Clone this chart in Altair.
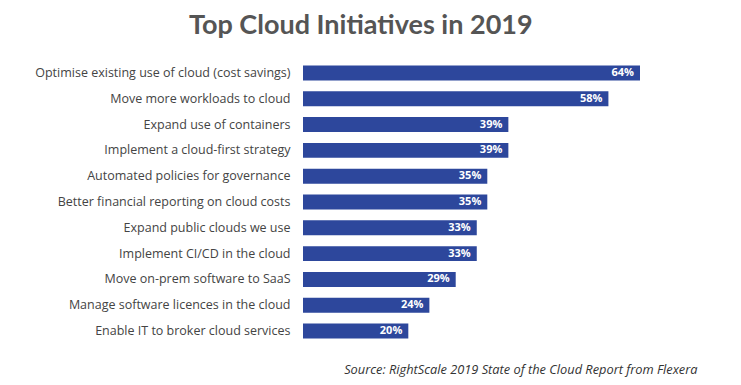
import altair as alt
import pandas as pd

initiatives = [
    "Optimise existing use of cloud (cost savings)",
    "Move more workloads to cloud",
    "Expand use of containers",
    "Implement a cloud-first strategy",
    "Automated policies for governance",
    "Better financial reporting on cloud costs",
    "Expand public clouds we use",
    "Implement CI/CD in the cloud",
    "Move on-prem software to SaaS",
    "Manage software licences in the cloud",
    "Enable IT to broker cloud services",
]
percents = [64, 58, 39, 39, 35, 35, 33, 33, 29, 24, 20]

df = pd.DataFrame({"initiative": initiatives, "pct": percents})
df["label"] = df["pct"].astype(str) + "%"

y_enc = alt.Y(
    "initiative:N",
    sort=initiatives,
    scale=alt.Scale(paddingInner=0.42, paddingOuter=0.21),
    axis=alt.Axis(
        title=None, domain=False, ticks=False, labelLimit=320, labelPadding=13,
        labelFont="Open Sans", labelFontSize=12.5, labelColor="#444444",
    ),
)
x_enc = alt.X(
    "pct:Q",
    scale=alt.Scale(domain=[0, 64], nice=False),
    axis=alt.Axis(
        title="Source: RightScale 2019 State of the Cloud Report from Flexera",
        labels=False, ticks=False, domain=False, grid=False,
        titleFont="Open Sans", titleFontSize=12.8, titleFontStyle="italic",
        titleFontWeight="normal", titleColor="#333333",
        titleAnchor="end", titleAlign="right", titleX=394, titleY=29,
        titleBaseline="alphabetic",
    ),
)

bars = alt.Chart(df).mark_bar(color="#2D479C").encode(x=x_enc, y=y_enc)
labels = alt.Chart(df).mark_text(
    align="right", baseline="middle", dx=-6, color="white",
    font="Open Sans", fontSize=11, fontWeight="bold",
).encode(x="pct:Q", y=alt.Y("initiative:N", sort=initiatives), text="label:N")

chart = (
    alt.layer(bars, labels)
    .properties(
        width=337, height=284,
        autosize=alt.AutoSizeParams(type="none"),
        padding={"left": 295, "top": 52, "right": 93, "bottom": 33},
        title=alt.TitleParams(
            "Top Cloud Initiatives in 2019", anchor="start", frame="group",
            dx=-114, offset=20,
            font="Lato", fontSize=27, fontWeight="bold", color="#555555",
        ),
    )
    .configure_view(stroke=None)
)

chart.save("out.html", embed_options={"renderer": "svg", "actions": False})
